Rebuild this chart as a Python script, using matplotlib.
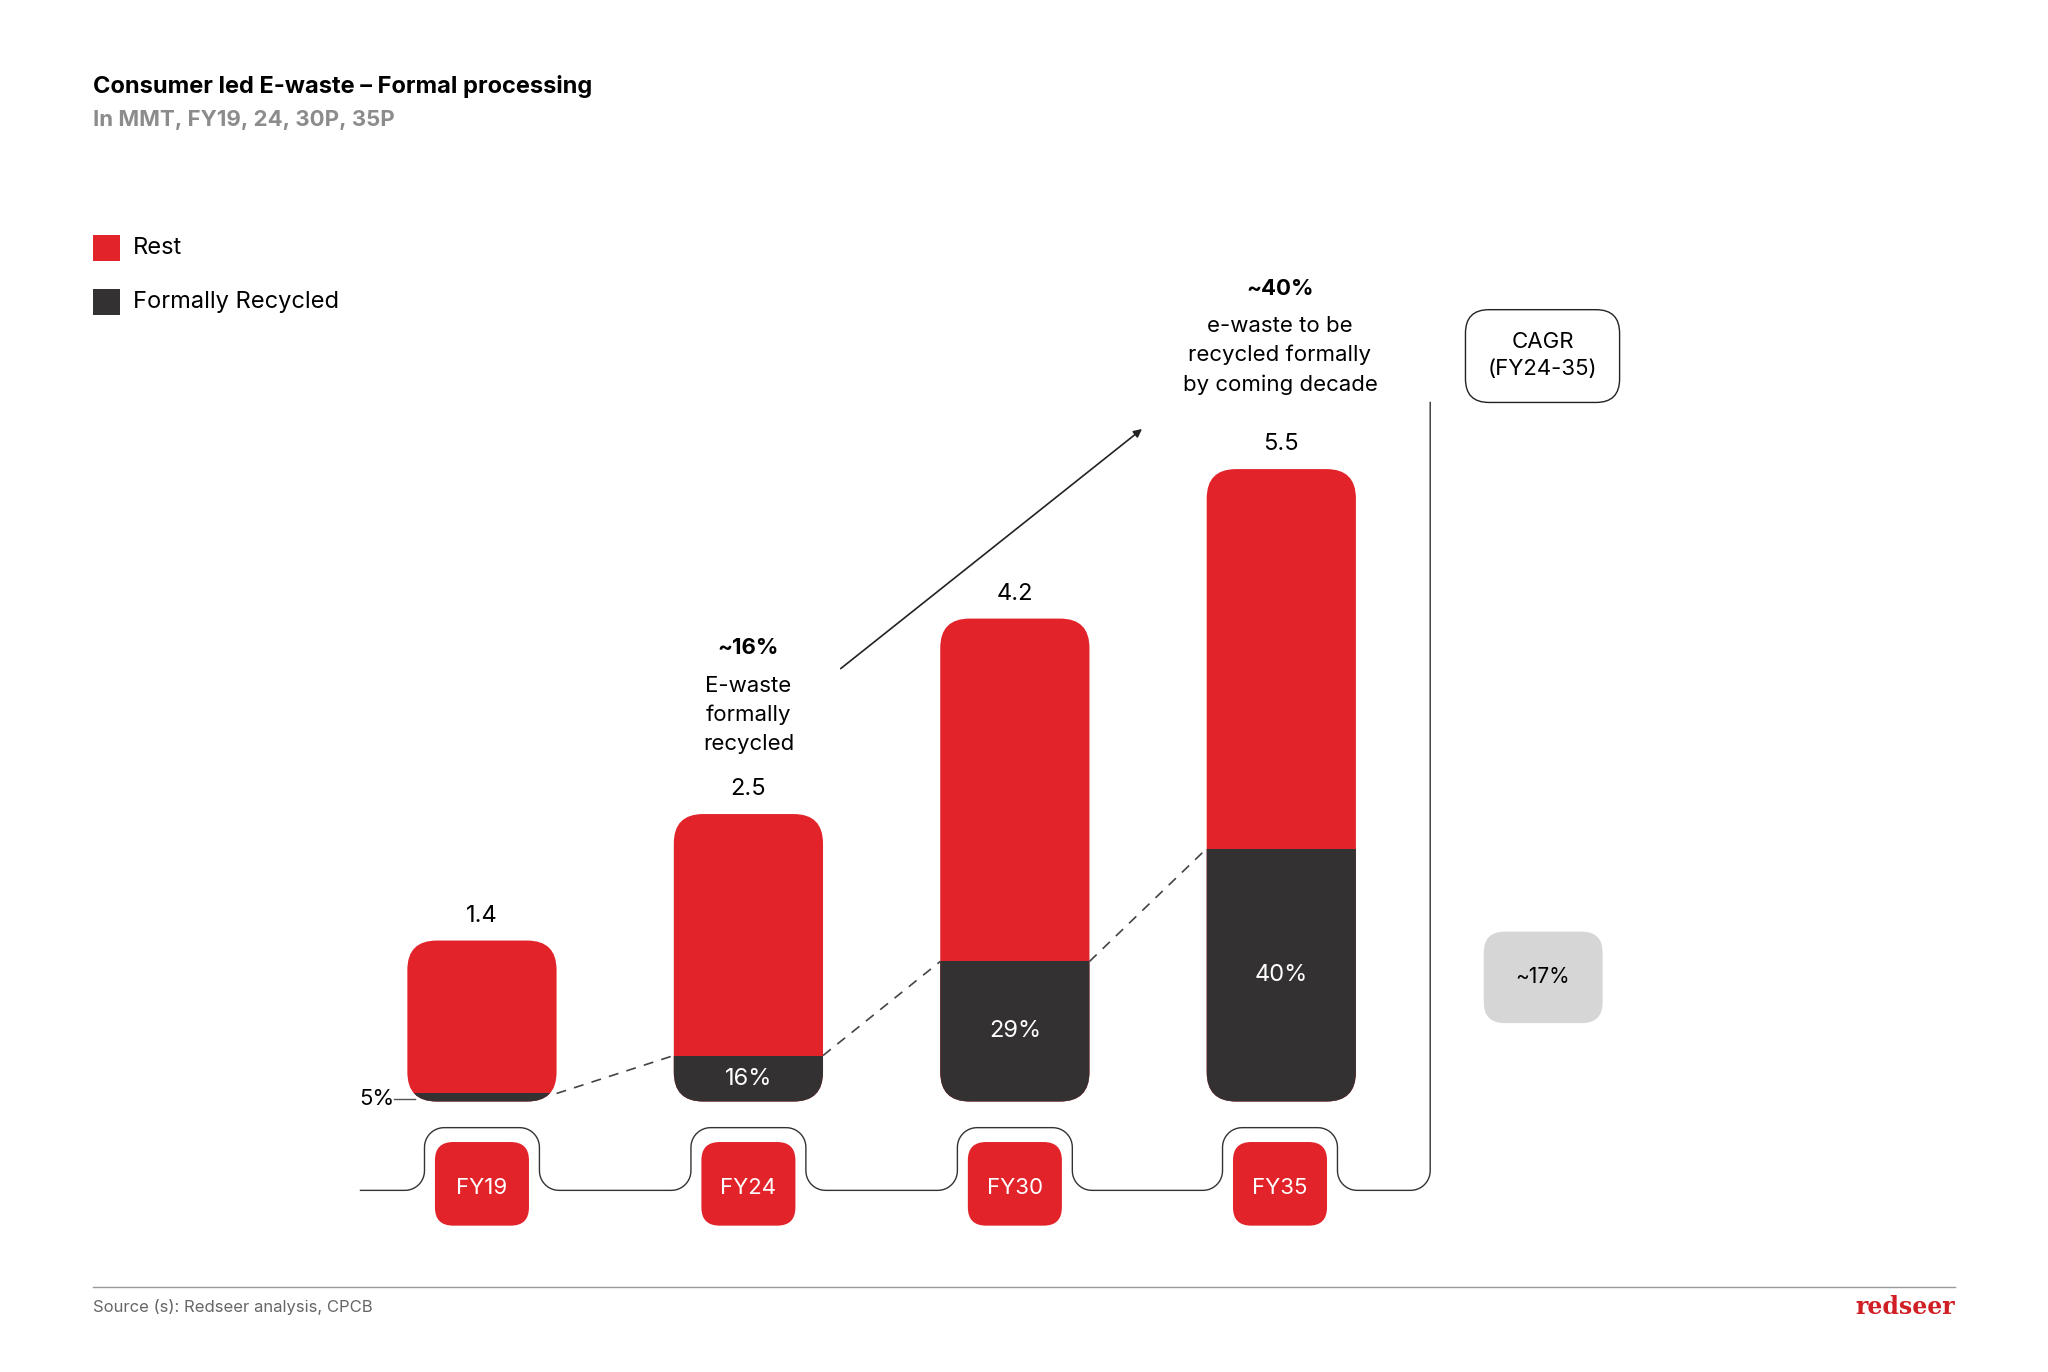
import matplotlib
matplotlib.use("Agg")
import matplotlib.pyplot as plt
from matplotlib.patches import FancyBboxPatch, Rectangle
import numpy as np

plt.rcParams["font.family"] = "Inter"

categories = ["FY19", "FY24", "FY30", "FY35"]
totals = [1.4, 2.5, 4.2, 5.5]
recycled_pct = [5, 16, 29, 40]
legend_labels = ["Rest", "Formally Recycled"]
cagr_label = "~17%"

RED = "#E3232A"
DARK = "#333132"

W, H = 1568, 1050
fig = plt.figure(figsize=(20.48, 13.72), dpi=100)

ov = fig.add_axes([0, 0, 1, 1])
ov.set_xlim(0, W); ov.set_ylim(H, 0); ov.axis("off")

px_x, px_y = 204.0, 88.0
x0_px, y0_px = 369.0, 843.0
L, R, T, B = 270, 1100, 200, 950
ax = fig.add_axes([L / W, 1 - B / H, (R - L) / W, (B - T) / H])
ax.set_xlim((L - x0_px) / px_x, (R - x0_px) / px_x)
ax.set_ylim((y0_px - B) / px_y, (y0_px - T) / px_y)
ax.axis("off")
ax.patch.set_alpha(0)

bw = 0.56
asp = px_x / px_y
r = 0.11
xs = np.arange(len(categories))
rec_vals = [t * p / 100 for t, p in zip(totals, recycled_pct)]
for x, t, rv, p in zip(xs, totals, rec_vals, recycled_pct):
    red = FancyBboxPatch((x - bw / 2, 0), bw, t, boxstyle=f"round,pad=0,rounding_size={r}",
                         mutation_aspect=asp, fc=RED, ec="none")
    ax.add_patch(red)
    dk = FancyBboxPatch((x - bw / 2, 0), bw, t, boxstyle=f"round,pad=0,rounding_size={r}",
                        mutation_aspect=asp, fc=DARK, ec="none")
    ax.add_patch(dk)
    clip = Rectangle((x - bw / 2 - 0.1, -1), bw + 0.2, 1 + rv, transform=ax.transData)
    dk.set_clip_path(clip)
    ax.text(x, t + 0.12, f"{t}", ha="center", va="bottom", fontsize=17, color="black")
    if p > 10:
        ax.text(x, rv / 2, f"{p}%", ha="center", va="center", fontsize=17, color="white")

# 5% label and connector
ov.text(275, 841, f"{recycled_pct[0]}%", ha="left", va="center", fontsize=16)
ov.plot([302, 318], [841, 841], color="#555", lw=1)
for i in range(len(xs) - 1):
    ax.plot([xs[i] + bw / 2, xs[i + 1] - bw / 2], [rec_vals[i], rec_vals[i + 1]],
            color="#444", lw=1.2, ls=(0, (6, 5)))

ax.annotate("", xy=((876 - x0_px) / px_x, (y0_px - 327) / px_y),
            xytext=((642 - x0_px) / px_x, (y0_px - 513) / px_y),
            arrowprops=dict(arrowstyle="-|>", color="#222", lw=1.2, mutation_scale=12))
ov.text(573, 496, "~16%", ha="center", va="center", fontsize=16, fontweight="bold")
ov.text(573, 547, "E-waste\nformally\nrecycled", ha="center", va="center", fontsize=16, linespacing=1.55)
ov.text(980, 221, "~40%", ha="center", va="center", fontsize=16, fontweight="bold")
ov.text(980, 272, "e-waste to be\nrecycled formally\nby coming decade", ha="center", va="center",
        fontsize=16, linespacing=1.55)

# baseline bracket path
def arc(cx, cy, rad, a0, a1, n=12):
    t = np.radians(np.linspace(a0, a1, n))
    return list(cx + rad * np.cos(t)), list(cy - rad * np.sin(t))

px_, py_ = [276], [911]
rr = 15
for cx in [369, 573, 777, 980]:
    lx, rx = cx - 44, cx + 44
    a = arc(lx - rr, 911 - rr, rr, -90, 0); px_ += a[0]; py_ += a[1]
    a = arc(lx + rr, 863 + rr, rr, 180, 90); px_ += a[0]; py_ += a[1]
    a = arc(rx - rr, 863 + rr, rr, 90, 0); px_ += a[0]; py_ += a[1]
    a = arc(rx + rr, 911 - rr, rr, 180, 270); px_ += a[0]; py_ += a[1]
a = arc(1095 - rr, 911 - rr, rr, -90, 0); px_ += a[0]; py_ += a[1]
px_ += [1095]; py_ += [308]
ov.plot(px_, py_, color="#333", lw=1)

for cx, lab in zip([369, 573, 777, 980], categories):
    ov.add_patch(FancyBboxPatch((cx - 36, 874), 72, 64, boxstyle="round,pad=0,rounding_size=14",
                                fc=RED, ec="none", zorder=4))
    ov.text(cx, 909, lab, ha="center", va="center", fontsize=16, color="white", zorder=5)

ov.add_patch(FancyBboxPatch((1122, 237), 118, 71, boxstyle="round,pad=0,rounding_size=18",
                            fc="white", ec="#222", lw=1))
ov.text(1181, 272, "CAGR\n(FY24-35)", ha="center", va="center", fontsize=16, linespacing=1.4)
ov.add_patch(FancyBboxPatch((1136, 713), 91, 70, boxstyle="round,pad=0,rounding_size=16",
                            fc="#D6D6D6", ec="none"))
ov.text(1181, 748, cagr_label, ha="center", va="center", fontsize=15)

ov.text(71, 66, "Consumer led E-waste \u2013 Formal processing", ha="left", va="center",
        fontsize=17, fontweight="bold")
ov.text(71, 92, "In MMT, FY19, 24, 30P, 35P", ha="left", va="center", fontsize=16,
        fontweight="bold", color="#8C8C8C")
for yy, c, lab in [(190, RED, legend_labels[0]), (231, DARK, legend_labels[1])]:
    ov.add_patch(Rectangle((71, yy - 10), 21, 20, fc=c, ec="none"))
    ov.text(102, yy, lab, ha="left", va="center", fontsize=17)

ov.plot([71, 1497], [985, 985], color="#999", lw=1)
ov.text(71, 1000, "Source (s): Redseer analysis, CPCB", ha="left", va="center", fontsize=12, color="#666")
ov.text(1497, 1000, "redseer", ha="right", va="center", fontsize=17, color="#D01F25",
        fontweight="bold", family="DejaVu Serif")

fig.savefig("out.png", dpi=100, facecolor="white")
